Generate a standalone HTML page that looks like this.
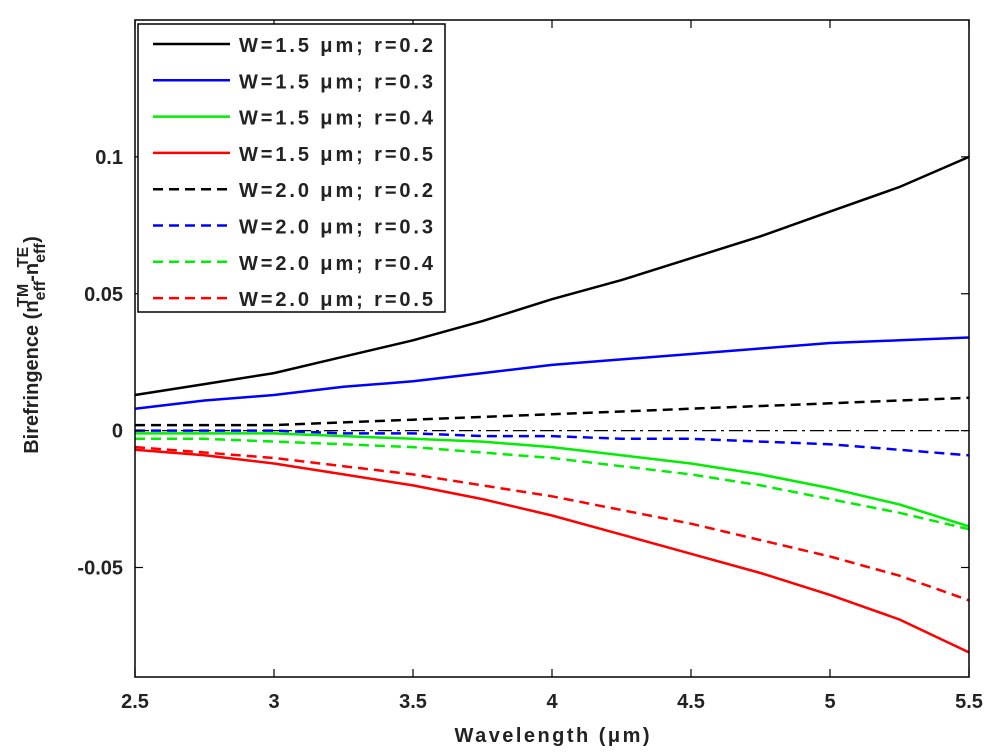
<!DOCTYPE html>
<html><head><meta charset="utf-8"><style>
body{margin:0;background:#fff;}
svg text{font-family:"Liberation Sans",Arial,sans-serif;font-weight:bold;fill:#222;}
</style></head><body>
<svg id="chart" width="1000" height="748" xmlns="http://www.w3.org/2000/svg">
<g id="plot"></g>
<g id="axes"></g>
<g id="legend"></g>
</svg>
<script>
const xTicks=[2.5,3,3.5,4,4.5,5,5.5];
const yTicks=[-0.05,0,0.05,0.1];
const yTickLabels=["-0.05","0","0.05","0.1"];
const wavelength=[2.5,2.75,3,3.25,3.5,3.75,4,4.25,4.5,4.75,5,5.25,5.5];
const w15r02=[0.013,0.017,0.021,0.027,0.033,0.040,0.048,0.055,0.063,0.071,0.080,0.089,0.100];
const w15r03=[0.008,0.011,0.013,0.016,0.018,0.021,0.024,0.026,0.028,0.030,0.032,0.033,0.034];
const w15r04=[-0.001,-0.001,-0.001,-0.002,-0.003,-0.004,-0.006,-0.009,-0.012,-0.016,-0.021,-0.027,-0.035];
const w15r05=[-0.007,-0.009,-0.012,-0.016,-0.020,-0.025,-0.031,-0.038,-0.045,-0.052,-0.060,-0.069,-0.081];
const w20r02=[0.002,0.002,0.002,0.003,0.004,0.005,0.006,0.007,0.008,0.009,0.010,0.011,0.012];
const w20r03=[0,0,0,-0.001,-0.001,-0.002,-0.002,-0.003,-0.003,-0.004,-0.005,-0.007,-0.009];
const w20r04=[-0.003,-0.003,-0.004,-0.005,-0.006,-0.008,-0.010,-0.013,-0.016,-0.020,-0.025,-0.030,-0.036];
const w20r05=[-0.006,-0.008,-0.010,-0.013,-0.016,-0.020,-0.024,-0.029,-0.034,-0.040,-0.046,-0.053,-0.062];
const seriesLabels=["W=1.5 μm; r=0.2","W=1.5 μm; r=0.3","W=1.5 μm; r=0.4","W=1.5 μm; r=0.5","W=2.0 μm; r=0.2","W=2.0 μm; r=0.3","W=2.0 μm; r=0.4","W=2.0 μm; r=0.5"];
const series=[w15r02,w15r03,w15r04,w15r05,w20r02,w20r03,w20r04,w20r05];
const colors=["#000","#00f","#0e0","#f00","#000","#00f","#0e0","#f00"];
const L=135,R=969,T=20,B=677,xMin=2.5,xMax=5.5,yMin=-0.09,yMax=0.15;
const X=v=>L+(v-xMin)/(xMax-xMin)*(R-L);
const Y=v=>B-(v-yMin)/(yMax-yMin)*(B-T);
const NS="http://www.w3.org/2000/svg";
function mk(tag,attrs,parent){const e=document.createElementNS(NS,tag);for(const k in attrs)e.setAttribute(k,attrs[k]);parent.appendChild(e);return e;}
const plot=document.getElementById('plot'),axes=document.getElementById('axes'),legend=document.getElementById('legend');
let z=mk('line',{x1:X(xMin),x2:X(xMax),y1:Y(0),y2:Y(0),stroke:'#000','stroke-width':1.2,'stroke-dasharray':'14 5 3 5'},plot);


series.forEach((s,i)=>{
  const d=s.map((v,j)=>(j?'L':'M')+X(wavelength[j]).toFixed(1)+','+Y(v).toFixed(1)).join(' ');
  const p=mk('path',{d:d,fill:'none',stroke:colors[i],'stroke-width':2.5},plot);
  if(i>=4)p.setAttribute('stroke-dasharray','10 6');
  
  
});
mk('rect',{x:L,y:T,width:R-L,height:B-T,fill:'none',stroke:'#000','stroke-width':1.5},axes);
xTicks.forEach(t=>{
  mk('line',{x1:X(t),x2:X(t),y1:B,y2:B-8,stroke:'#000','stroke-width':1.2},axes);
  mk('line',{x1:X(t),x2:X(t),y1:T,y2:T+8,stroke:'#000','stroke-width':1.2},axes);
  const tx=mk('text',{x:X(t),y:B+31,'text-anchor':'middle','font-size':20},axes);
  tx.textContent=String(t);
  
  
});
yTicks.forEach((t,i)=>{
  mk('line',{x1:L,x2:L+8,y1:Y(t),y2:Y(t),stroke:'#000','stroke-width':1.2},axes);
  mk('line',{x1:R,x2:R-8,y1:Y(t),y2:Y(t),stroke:'#000','stroke-width':1.2},axes);
  const tx=mk('text',{x:L-12,y:Y(t)+7,'text-anchor':'end','font-size':20},axes);
  tx.textContent=yTickLabels[i];
  
  
});
const xt=mk('text',{x:552,y:742,'text-anchor':'middle','font-size':20,'textLength':195},axes);
xt.textContent='Wavelength  (μm)';


const yt=mk('text',{transform:'translate(38,345) rotate(-90)','text-anchor':'middle','font-size':20},axes);
yt.innerHTML='Birefringence  (n<tspan font-size="16" dy="7">eff</tspan><tspan font-size="16" dy="-17" dx="-26">TM</tspan><tspan dy="10" dx="2">-n</tspan><tspan font-size="16" dy="7">eff</tspan><tspan font-size="16" dy="-17" dx="-24">TE</tspan><tspan dy="10" dx="4">)</tspan>';


mk('rect',{x:138,y:24,width:307,height:288,fill:'#fff',stroke:'#000','stroke-width':1.5},legend);
seriesLabels.forEach((lab,i)=>{
  const y=44+i*36.3;
  const ln=mk('line',{x1:153,x2:230,y1:y,y2:y,stroke:colors[i],'stroke-width':2.5},legend);
  if(i>=4)ln.setAttribute('stroke-dasharray','10 6');
  const tx=mk('text',{x:239,y:y+8,'font-size':20,'textLength':194},legend);
  tx.textContent=lab;
  
  
});
</script>
</body></html>
